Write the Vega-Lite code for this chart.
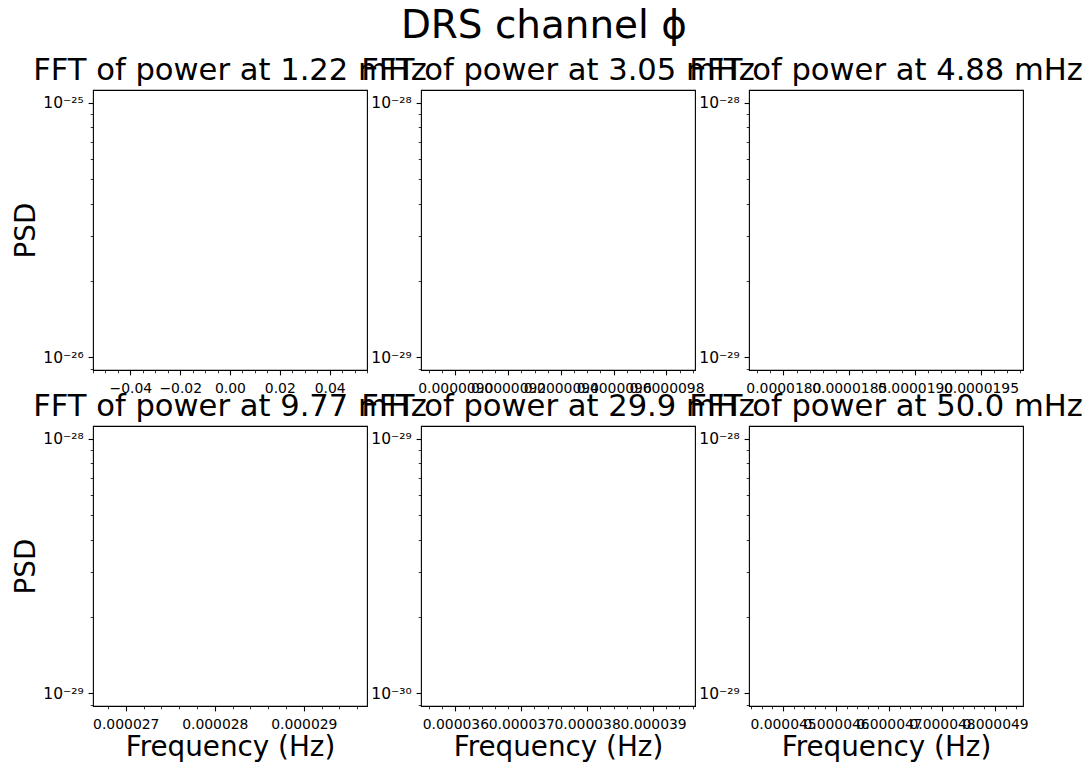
{
  "$schema": "https://vega.github.io/schema/vega-lite/v6.json",
  "padding": {"left": 12, "top": 6, "right": 5, "bottom": 5},
  "title": {"text": "DRS channel ϕ", "fontSize": 38.9, "anchor": "middle", "frame": "bounds", "dx": -4, "offset": 10},
  "data": {"values": []},
  "bounds": "flush",
  "columns": 3,
  "spacing": {"row": 56, "column": 54},
  "concat": [
        {
          "width": 274, "height": 280,
          "title": "FFT of power at 1.22 mHz",
          "resolve": {"axis": {"x": "independent", "y": "independent"}},
          "layer": [
            {"mark": {"type": "point", "opacity": 0}, "encoding": {
              "x": {"field": "frequency", "type": "quantitative", "scale": {"domain": [-0.055, 0.055], "nice": false, "zero": false},
                    "axis": {"orient": "bottom", "values": [-0.04, -0.02, 0, 0.02, 0.04], "format": ".2f", "title": null}},
              "y": {"field": "psd", "type": "quantitative", "scale": {"type": "log", "domain": [8.9125e-27, 1.122e-25], "nice": false},
                    "axis": {"orient": "left", "values": [1e-26, 1e-25], "labelExpr": "datum.value > 3e-26 ? '10⁻²⁵' : '10⁻²⁶'", "title": "PSD"}}}},
            {"mark": {"type": "point", "opacity": 0}, "encoding": {
              "x": {"field": "frequency", "type": "quantitative", "scale": {"domain": [-0.055, 0.055], "nice": false, "zero": false},
                    "axis": {"orient": "bottom", "values": [-0.055, -0.05, -0.045, -0.035, -0.03, -0.025, -0.015, -0.01, -0.005, 0.005, 0.01, 0.015, 0.025, 0.03, 0.035, 0.045, 0.05, 0.055], "labels": false, "tickSize": 2.8, "tickWidth": 0.8, "title": null}},
              "y": {"field": "psd", "type": "quantitative", "scale": {"type": "log", "domain": [8.9125e-27, 1.122e-25], "nice": false},
                    "axis": {"orient": "left", "values": [9e-27, 2e-26, 3e-26, 4e-26, 5e-26, 6e-26, 7e-26, 8e-26, 9e-26], "labels": false, "tickSize": 2.8, "tickWidth": 0.8, "title": null}}}}
          ]
        },
        {
          "width": 274, "height": 280,
          "title": "FFT of power at 3.05 mHz",
          "resolve": {"axis": {"x": "independent", "y": "independent"}},
          "layer": [
            {"mark": {"type": "point", "opacity": 0}, "encoding": {
              "x": {"field": "frequency", "type": "quantitative", "scale": {"domain": [8.87e-6, 9.908e-6], "nice": false, "zero": false},
                    "axis": {"orient": "bottom", "values": [9.0e-6, 9.2e-6, 9.4e-6, 9.6e-6, 9.8e-6], "format": ".7f", "title": null}},
              "y": {"field": "psd", "type": "quantitative", "scale": {"type": "log", "domain": [8.9125e-30, 1.122e-28], "nice": false},
                    "axis": {"orient": "left", "values": [1e-29, 1e-28], "labelExpr": "datum.value > 3e-29 ? '10⁻²⁸' : '10⁻²⁹'", "title": null}}}},
            {"mark": {"type": "point", "opacity": 0}, "encoding": {
              "x": {"field": "frequency", "type": "quantitative", "scale": {"domain": [8.87e-6, 9.908e-6], "nice": false, "zero": false},
                    "axis": {"orient": "bottom", "values": [8.9e-6, 8.95e-6, 9.05e-6, 9.1e-6, 9.15e-6, 9.25e-6, 9.3e-6, 9.35e-6, 9.45e-6, 9.5e-6, 9.55e-6, 9.65e-6, 9.7e-6, 9.75e-6, 9.85e-6, 9.9e-6], "labels": false, "tickSize": 2.8, "tickWidth": 0.8, "title": null}},
              "y": {"field": "psd", "type": "quantitative", "scale": {"type": "log", "domain": [8.9125e-30, 1.122e-28], "nice": false},
                    "axis": {"orient": "left", "values": [9e-30, 2e-29, 3e-29, 4e-29, 5e-29, 6e-29, 7e-29, 8e-29, 9e-29], "labels": false, "tickSize": 2.8, "tickWidth": 0.8, "title": null}}}}
          ]
        },
        {
          "width": 274, "height": 280,
          "title": "FFT of power at 4.88 mHz",
          "resolve": {"axis": {"x": "independent", "y": "independent"}},
          "layer": [
            {"mark": {"type": "point", "opacity": 0}, "encoding": {
              "x": {"field": "frequency", "type": "quantitative", "scale": {"domain": [1.7739e-5, 1.9819e-5], "nice": false, "zero": false},
                    "axis": {"orient": "bottom", "values": [1.8e-5, 1.85e-5, 1.9e-5, 1.95e-5], "format": ".7f", "title": null}},
              "y": {"field": "psd", "type": "quantitative", "scale": {"type": "log", "domain": [8.9125e-30, 1.122e-28], "nice": false},
                    "axis": {"orient": "left", "values": [1e-29, 1e-28], "labelExpr": "datum.value > 3e-29 ? '10⁻²⁸' : '10⁻²⁹'", "title": null}}}},
            {"mark": {"type": "point", "opacity": 0}, "encoding": {
              "x": {"field": "frequency", "type": "quantitative", "scale": {"domain": [1.7739e-5, 1.9819e-5], "nice": false, "zero": false},
                    "axis": {"orient": "bottom", "values": [1.78e-5, 1.79e-5, 1.81e-5, 1.82e-5, 1.83e-5, 1.84e-5, 1.86e-5, 1.87e-5, 1.88e-5, 1.89e-5, 1.91e-5, 1.92e-5, 1.93e-5, 1.94e-5, 1.96e-5, 1.97e-5, 1.98e-5], "labels": false, "tickSize": 2.8, "tickWidth": 0.8, "title": null}},
              "y": {"field": "psd", "type": "quantitative", "scale": {"type": "log", "domain": [8.9125e-30, 1.122e-28], "nice": false},
                    "axis": {"orient": "left", "values": [9e-30, 2e-29, 3e-29, 4e-29, 5e-29, 6e-29, 7e-29, 8e-29, 9e-29], "labels": false, "tickSize": 2.8, "tickWidth": 0.8, "title": null}}}}
          ]
        },
        {
          "width": 274, "height": 280,
          "title": "FFT of power at 9.77 mHz",
          "resolve": {"axis": {"x": "independent", "y": "independent"}},
          "layer": [
            {"mark": {"type": "point", "opacity": 0}, "encoding": {
              "x": {"field": "frequency", "type": "quantitative", "scale": {"domain": [2.6632e-5, 2.971e-5], "nice": false, "zero": false},
                    "axis": {"orient": "bottom", "values": [2.7e-5, 2.8e-5, 2.9e-5], "format": ".6f", "title": "Frequency (Hz)"}},
              "y": {"field": "psd", "type": "quantitative", "scale": {"type": "log", "domain": [8.9125e-30, 1.122e-28], "nice": false},
                    "axis": {"orient": "left", "values": [1e-29, 1e-28], "labelExpr": "datum.value > 3e-29 ? '10⁻²⁸' : '10⁻²⁹'", "title": "PSD"}}}},
            {"mark": {"type": "point", "opacity": 0}, "encoding": {
              "x": {"field": "frequency", "type": "quantitative", "scale": {"domain": [2.6632e-5, 2.971e-5], "nice": false, "zero": false},
                    "axis": {"orient": "bottom", "values": [2.68e-5, 2.72e-5, 2.74e-5, 2.76e-5, 2.78e-5, 2.82e-5, 2.84e-5, 2.86e-5, 2.88e-5, 2.92e-5, 2.94e-5, 2.96e-5], "labels": false, "tickSize": 2.8, "tickWidth": 0.8, "title": null}},
              "y": {"field": "psd", "type": "quantitative", "scale": {"type": "log", "domain": [8.9125e-30, 1.122e-28], "nice": false},
                    "axis": {"orient": "left", "values": [9e-30, 2e-29, 3e-29, 4e-29, 5e-29, 6e-29, 7e-29, 8e-29, 9e-29], "labels": false, "tickSize": 2.8, "tickWidth": 0.8, "title": null}}}}
          ]
        },
        {
          "width": 274, "height": 280,
          "title": "FFT of power at 29.9 mHz",
          "resolve": {"axis": {"x": "independent", "y": "independent"}},
          "layer": [
            {"mark": {"type": "point", "opacity": 0}, "encoding": {
              "x": {"field": "frequency", "type": "quantitative", "scale": {"domain": [3.5478e-5, 3.9637e-5], "nice": false, "zero": false},
                    "axis": {"orient": "bottom", "values": [3.6e-5, 3.7e-5, 3.8e-5, 3.9e-5], "format": ".6f", "title": "Frequency (Hz)"}},
              "y": {"field": "psd", "type": "quantitative", "scale": {"type": "log", "domain": [8.9125e-31, 1.122e-29], "nice": false},
                    "axis": {"orient": "left", "values": [1e-30, 1e-29], "labelExpr": "datum.value > 3e-30 ? '10⁻²⁹' : '10⁻³⁰'", "title": null}}}},
            {"mark": {"type": "point", "opacity": 0}, "encoding": {
              "x": {"field": "frequency", "type": "quantitative", "scale": {"domain": [3.5478e-5, 3.9637e-5], "nice": false, "zero": false},
                    "axis": {"orient": "bottom", "values": [3.56e-5, 3.58e-5, 3.62e-5, 3.64e-5, 3.66e-5, 3.68e-5, 3.72e-5, 3.74e-5, 3.76e-5, 3.78e-5, 3.82e-5, 3.84e-5, 3.86e-5, 3.88e-5, 3.92e-5, 3.94e-5, 3.96e-5], "labels": false, "tickSize": 2.8, "tickWidth": 0.8, "title": null}},
              "y": {"field": "psd", "type": "quantitative", "scale": {"type": "log", "domain": [8.9125e-31, 1.122e-29], "nice": false},
                    "axis": {"orient": "left", "values": [9e-31, 2e-30, 3e-30, 4e-30, 5e-30, 6e-30, 7e-30, 8e-30, 9e-30], "labels": false, "tickSize": 2.8, "tickWidth": 0.8, "title": null}}}}
          ]
        },
        {
          "width": 274, "height": 280,
          "title": "FFT of power at 50.0 mHz",
          "resolve": {"axis": {"x": "independent", "y": "independent"}},
          "layer": [
            {"mark": {"type": "point", "opacity": 0}, "encoding": {
              "x": {"field": "frequency", "type": "quantitative", "scale": {"domain": [4.4358e-5, 4.9528e-5], "nice": false, "zero": false},
                    "axis": {"orient": "bottom", "values": [4.5e-5, 4.6e-5, 4.7e-5, 4.8e-5, 4.9e-5], "format": ".6f", "title": "Frequency (Hz)"}},
              "y": {"field": "psd", "type": "quantitative", "scale": {"type": "log", "domain": [8.9125e-30, 1.122e-28], "nice": false},
                    "axis": {"orient": "left", "values": [1e-29, 1e-28], "labelExpr": "datum.value > 3e-29 ? '10⁻²⁸' : '10⁻²⁹'", "title": null}}}},
            {"mark": {"type": "point", "opacity": 0}, "encoding": {
              "x": {"field": "frequency", "type": "quantitative", "scale": {"domain": [4.4358e-5, 4.9528e-5], "nice": false, "zero": false},
                    "axis": {"orient": "bottom", "values": [4.44e-5, 4.46e-5, 4.48e-5, 4.52e-5, 4.54e-5, 4.56e-5, 4.58e-5, 4.62e-5, 4.64e-5, 4.66e-5, 4.68e-5, 4.72e-5, 4.74e-5, 4.76e-5, 4.78e-5, 4.82e-5, 4.84e-5, 4.86e-5, 4.88e-5, 4.92e-5, 4.94e-5], "labels": false, "tickSize": 2.8, "tickWidth": 0.8, "title": null}},
              "y": {"field": "psd", "type": "quantitative", "scale": {"type": "log", "domain": [8.9125e-30, 1.122e-28], "nice": false},
                    "axis": {"orient": "left", "values": [9e-30, 2e-29, 3e-29, 4e-29, 5e-29, 6e-29, 7e-29, 8e-29, 9e-29], "labels": false, "tickSize": 2.8, "tickWidth": 0.8, "title": null}}}}
          ]
        }
  ],
  "config": {
    "font": "DejaVu Sans",
    "background": "white",
    "view": {"stroke": "black", "strokeWidth": 1.1},
    "axis": {"grid": false, "domain": false, "tickColor": "black", "tickSize": 4.9, "tickWidth": 1.1, "labelColor": "black", "labelFont": "DejaVu Sans", "labelFontSize": 13.9, "labelPadding": 4.9, "labelOverlap": false, "labelFlush": false, "titleFont": "DejaVu Sans", "titleFontSize": 27.8, "titleFontWeight": "normal", "titleColor": "black"},
    "axisX": {"titlePadding": 2.5, "labelPadding": 6.5},
    "axisY": {"titlePadding": 2, "labelFontSize": 15.5},
    "title": {"font": "DejaVu Sans", "fontSize": 30.6, "fontWeight": "normal", "color": "black", "anchor": "middle", "frame": "group", "offset": 3, "baseline": "alphabetic"}
  }
}
